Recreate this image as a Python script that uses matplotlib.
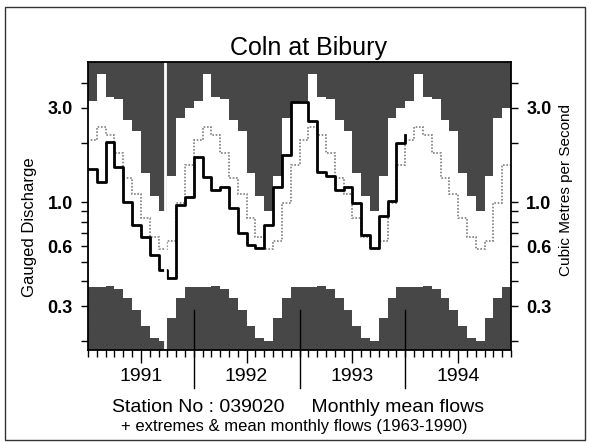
import numpy as np
import matplotlib
matplotlib.use("Agg")
import matplotlib.pyplot as plt
from matplotlib.ticker import FixedLocator, FixedFormatter, NullFormatter
from matplotlib.patches import Rectangle

plt.rcParams['font.family'] = ['Liberation Sans', 'DejaVu Sans']

years = [1991, 1992, 1993, 1994]

# period of record 1963-1990, Jan..Dec (m3/s)
max_flow = [3.24, 4.43, 3.39, 3.31, 2.59, 2.28, 1.40, 1.08, 0.90, 1.35, 2.66, 2.98]
mean_flow = [2.06, 2.39, 2.18, 1.77, 1.32, 1.10, 0.83, 0.67, 0.58, 0.64, 0.99, 1.54]
min_flow = [0.372, 0.372, 0.377, 0.364, 0.331, 0.288, 0.239, 0.206, 0.199, 0.260, 0.328, 0.372]

# monthly mean flows, Jan..Dec
flow_1991 = [1.48, 1.26, 2.01, 1.50, 1.00, 0.765, 0.666, 0.540, 0.454, 0.413, 0.966, 1.06]
flow_1992 = [1.69, 1.34, 1.15, 1.19, 0.933, 0.697, 0.607, 0.586, 0.765, 1.19, 1.73, 3.20]
flow_1993 = [3.20, 2.56, 1.42, 1.35, 1.15, 1.19, 0.988, 0.681, 0.586, 0.850, 1.02, 1.99]
flow_jan1994 = 2.18

y_ticks = [0.3, 0.6, 1.0, 3.0]
y_tick_labels = ['0.3', '0.6', '1.0', '3.0']
y_minor = [0.2, 0.4, 0.5, 0.7, 0.8, 0.9, 2.0, 4.0]
ylo, yhi = 0.18, 5.1

n_years = len(years)
edges = np.arange(12 * n_years + 1)
hmax = np.tile(max_flow, n_years)
hmean = np.tile(mean_flow, n_years)
hmin = np.tile(min_flow, n_years)
flows = np.array(flow_1991 + flow_1992 + flow_1993 + [flow_jan1994])

# shading runs from the record extremes (or the flow, where it goes past them)
upper = hmax.copy()
upper[:36] = np.maximum(hmax[:36], flows[:36])
lower = hmin.copy()
lower[:36] = np.minimum(hmin[:36], flows[:36])

W, H = 589, 443
fig = plt.figure(figsize=(W / 100, H / 100), dpi=100)
ax = fig.add_axes([88 / W, 1 - 350 / H, 423 / W, 288 / H])
ax.set_yscale('log')
ax.set_ylim(ylo, yhi)
ax.set_xlim(edges[0], edges[-1])

shade = '#474747'
ax.stairs(upper, edges, baseline=yhi, fill=True, color=shade, zorder=1)
ax.stairs(lower, edges, baseline=ylo, fill=True, color=shade, zorder=1)
ax.stairs(hmean, edges, color='#808080', lw=1.2, linestyle=(0, (1, 1)), zorder=3)
ax.step(np.arange(len(flows)), flows, where='post', color='black', lw=2.0, zorder=4)

# scan seam
ax.plot([0.182, 0.182], [0, 1], transform=ax.transAxes, color='white', lw=2, zorder=6)

# year boundary marks
for b in edges[12:-1:12]:
    ax.plot([b, b], [-38 / 288, 40 / 288], transform=ax.get_xaxis_transform(),
            clip_on=False, color='black', lw=1.0, zorder=5)

ax.xaxis.set_major_locator(FixedLocator(edges[6::12]))
ax.xaxis.set_major_formatter(FixedFormatter([str(y) for y in years]))
ax.xaxis.set_minor_locator(FixedLocator(edges))
ax.tick_params(axis='x', which='major', direction='out', length=9.5, width=1,
               labelsize=14, pad=3.5)
ax.tick_params(axis='x', which='minor', direction='out', length=5, width=1)

ax.yaxis.set_major_locator(FixedLocator(y_ticks))
ax.yaxis.set_major_formatter(FixedFormatter(y_tick_labels))
ax.yaxis.set_minor_locator(FixedLocator(y_minor))
ax.yaxis.set_minor_formatter(NullFormatter())
ax.tick_params(axis='y', which='both', direction='out', length=5, width=1,
               left=True, right=True, labelleft=True, labelright=True)
ax.tick_params(axis='y', which='major', labelsize=13, pad=6)
for lab in ax.get_yticklabels():
    lab.set_fontweight('bold')

for s in ax.spines.values():
    s.set_linewidth(1.3)
    s.set_zorder(7)

fig.text(309 / W, 1 - 54.5 / H, 'Coln at Bibury', ha='center', va='baseline', fontsize=18)
fig.text(30 / W, 1 - 227 / H, 'Gauged Discharge', rotation=90, ha='center', va='center',
         fontsize=12)
fig.text(566 / W, 1 - 190 / H, 'Cubic Metres per Second', rotation=90, ha='center',
         va='center', fontsize=11)
fig.text(298 / W, 1 - 408 / H, 'Station No : 039020     Monthly mean flows',
         ha='center', va='center', fontsize=14)
fig.text(294 / W, 1 - 427 / H, '+ extremes & mean monthly flows (1963-1990)',
         ha='center', va='center', fontsize=12)

fig.patches.append(Rectangle((4.5 / W, 3 / H), 580.5 / W, 433 / H, transform=fig.transFigure,
                             fill=False, edgecolor='#333333', lw=1))

fig.savefig('out.png', dpi=100, facecolor='white')
